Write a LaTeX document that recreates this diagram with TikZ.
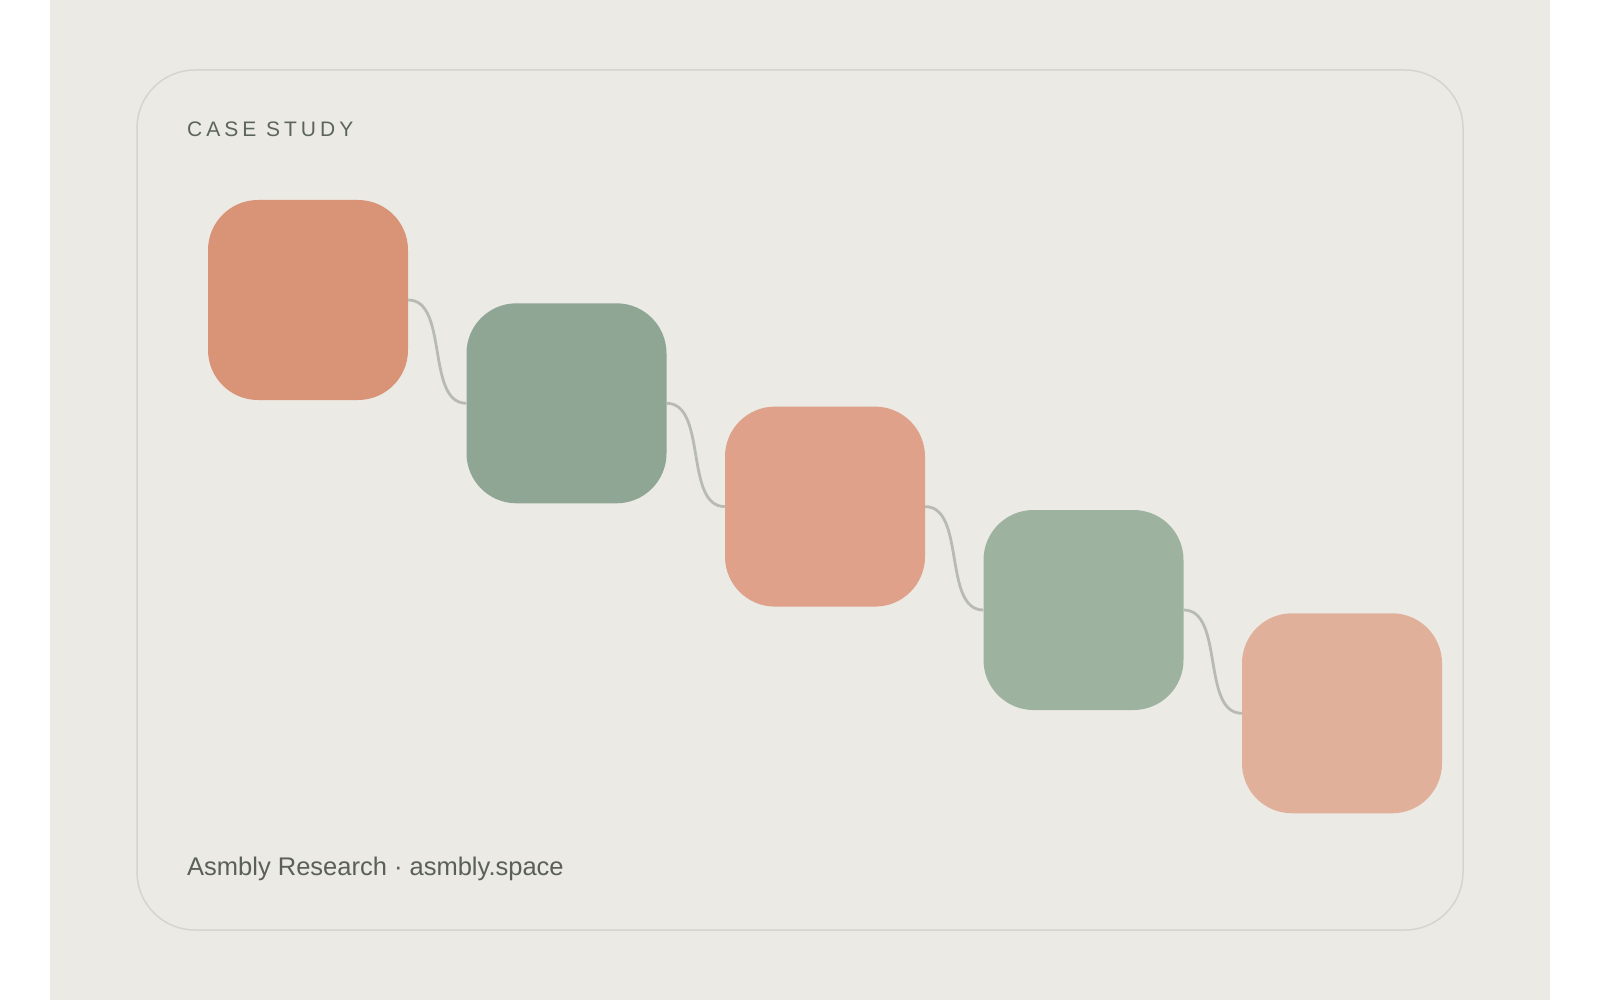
\documentclass[tikz,border=0pt]{standalone}
\usepackage{fontspec}
\setmainfont{Liberation Sans}
\usetikzlibrary{calc}
\definecolor{pagebg}{HTML}{EBEAE5}
\definecolor{cardline}{HTML}{D5D4CF}
\definecolor{connline}{HTML}{B8BBB4}
\definecolor{inkgreen}{HTML}{5B6559}
\definecolor{inkgray}{HTML}{5A5F58}
\definecolor{cA}{HTML}{D99377}
\definecolor{cB}{HTML}{8FA694}
\definecolor{cC}{HTML}{DFA189}
\definecolor{cD}{HTML}{9EB39F}
\definecolor{cE}{HTML}{E1B09A}
\tikzset{
  tile/.style={draw=none, rounded corners=50pt, minimum width=200pt, minimum height=200pt, inner sep=0pt},
  conn/.style={draw=connline, line width=2.8pt},
  card/.style={draw=cardline, line width=1.5pt, rounded corners=58pt},
}
\begin{document}
\begin{tikzpicture}[x=1pt,y=-1pt]
\useasboundingbox (0,0) rectangle (1600,1000);
\fill[white] (0,0) rectangle (1600,1000);
\fill[pagebg] (50,0) rectangle (1550,1000);
\draw[card] (137,70) rectangle (1463,930);
\node[anchor=base west, inner sep=0pt, text=inkgreen, font=\fontsize{21}{24}\selectfont\addfontfeature{LetterSpace=19}] (title) at (187,137) {CASE STUDY};
\node[anchor=base west, inner sep=0pt, text=inkgray, font=\fontsize{25.5}{30}\selectfont] (foot) at (187,875) {Asmbly Research · asmbly.space};
\node[tile, fill=cA] (b1) at (308,300) {};
\node[tile, fill=cB] (b2) at (566.5,403.3) {};
\node[tile, fill=cC] (b3) at (825,506.6) {};
\node[tile, fill=cD] (b4) at (1083.5,610) {};
\node[tile, fill=cE] (b5) at (1342,713.3) {};
\foreach \a/\b in {b1/b2,b2/b3,b3/b4,b4/b5}{
  \draw[conn] let \p1=(\a.east), \p2=(\b.west) in
    (\a.east) .. controls ({0.3*\x1+0.7*\x2},\y1) and ({0.7*\x1+0.3*\x2},\y2) .. (\b.west);
}
\end{tikzpicture}
\end{document}
